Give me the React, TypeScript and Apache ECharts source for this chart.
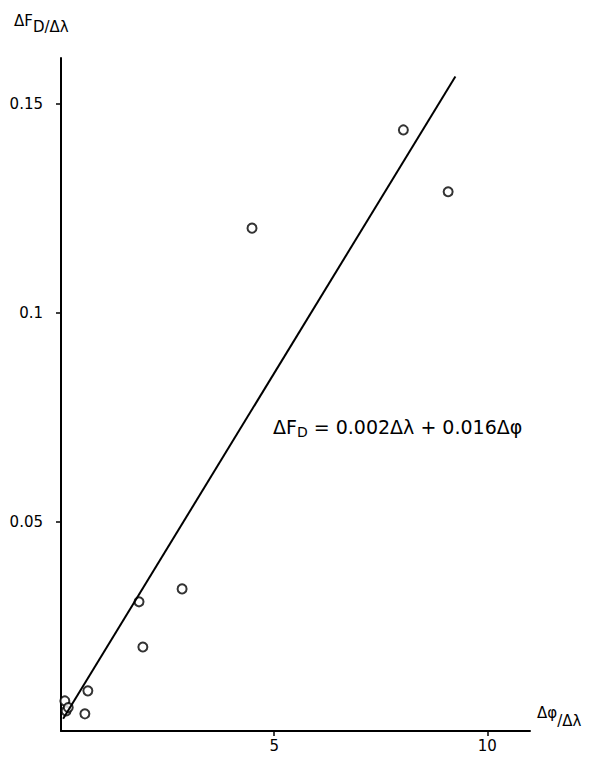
import React, { useEffect, useRef } from "react";
import * as echarts from "echarts";

const pointsX = [8.03, 9.08, 4.48, 2.84, 1.83, 1.92, 0.63, 0.56, 0.09, 0.12, 0.17];
const pointsY = [0.1438, 0.129, 0.1203, 0.034, 0.0309, 0.0201, 0.0096, 0.0041, 0.0072, 0.0048, 0.0056];
const fitX = [0.05, 9.25];
const fitIntercept = 0.0021;
const fitSlope = 0.0167;
const xTicks = [5, 10];
const yTicks = [0.05, 0.1, 0.15];

export default function App() {
  const ref = useRef<HTMLDivElement>(null);
  useEffect(() => {
    if (!ref.current) return;
    const chart = echarts.init(ref.current, null, { renderer: "svg" });
    const font = "DejaVu Sans";
    chart.setOption({
      animation: false,
      backgroundColor: "#ffffff",
      grid: { left: 61, top: 58, right: 70, bottom: 36, containLabel: false },
      xAxis: {
        type: "value",
        min: 0,
        max: 11,
        interval: 5,
        splitLine: { show: false },
        axisLine: { onZero: false, lineStyle: { color: "#000", width: 2 } },
        axisTick: { show: true, length: 5, customValues: xTicks, lineStyle: { color: "#000", width: 1.5 } },
        axisLabel: { customValues: xTicks, color: "#000", fontFamily: font, fontSize: 15, margin: 7 },
      },
      yAxis: {
        type: "value",
        min: 0,
        max: 0.161,
        interval: 0.05,
        splitLine: { show: false },
        axisLine: { onZero: false, lineStyle: { color: "#000", width: 2 } },
        axisTick: { show: true, length: 5, customValues: yTicks, lineStyle: { color: "#000", width: 1.5 } },
        axisLabel: {
          customValues: yTicks,
          color: "#000",
          fontFamily: font,
          fontSize: 15,
          margin: 18,
          formatter: (v: number) => String(Math.round(v * 100) / 100),
        },
      },
      series: [
        {
          type: "line",
          data: fitX.map((x) => [x, fitIntercept + fitSlope * x]),
          symbol: "none",
          lineStyle: { color: "#000", width: 2 },
          clip: false,
        },
        {
          type: "scatter",
          data: pointsX.map((x, i) => [x, pointsY[i]]),
          symbol: "circle",
          symbolSize: 9,
          itemStyle: { color: "#fff", borderColor: "#000", borderWidth: 2 },
        },
      ],
      graphic: [
        {
          type: "text",
          left: 14,
          top: 13,
          style: {
            text: "{a|ΔF}{b|D/Δλ}",
            rich: {
              a: { fontFamily: font, fontSize: 15, fill: "#000", verticalAlign: "top", padding: [0, 0, 6, 0] },
              b: { fontFamily: font, fontSize: 15, fill: "#000", verticalAlign: "bottom", padding: [6, 0, 0, 0] },
            },
          },
        },
        {
          type: "text",
          left: 537,
          top: 705,
          style: {
            text: "{a|Δφ}{b|/Δλ}",
            rich: {
              a: { fontFamily: font, fontSize: 15, fill: "#000", verticalAlign: "top", padding: [0, 0, 8, 0] },
              b: { fontFamily: font, fontSize: 15, fill: "#000", verticalAlign: "bottom", padding: [8, 0, 0, 0] },
            },
          },
        },
        {
          type: "text",
          left: 273,
          top: 417,
          style: {
            text: "{a|ΔF}{s|D}{a| = 0.002Δλ + 0.016Δφ}",
            rich: {
              a: { fontFamily: font, fontSize: 19, fill: "#000", verticalAlign: "top" },
              s: { fontFamily: font, fontSize: 14, fill: "#000", verticalAlign: "bottom", padding: [8, 0, 0, 0] },
            },
          },
        },
      ],
    });
    return () => chart.dispose();
  }, []);
  return (
    <div
      ref={ref}
      style={{ position: "fixed", left: 0, top: 0, width: 600, height: 767, background: "#fff" }}
    />
  );
}
